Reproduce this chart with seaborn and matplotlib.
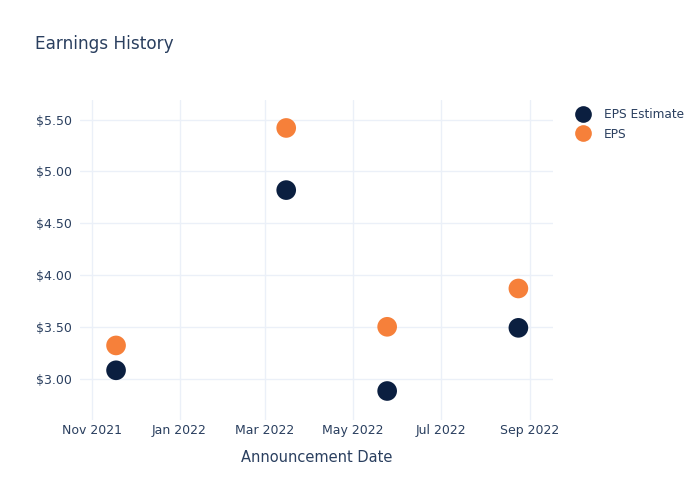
import matplotlib
matplotlib.use("Agg")
import matplotlib.pyplot as plt
import matplotlib.dates as mdates
from matplotlib.ticker import FuncFormatter
import seaborn as sns
import pandas as pd
import numpy as np

dates = ["2021-11-18", "2022-03-16", "2022-05-25", "2022-08-24"]
eps_estimate = [3.08, 4.82, 2.88, 3.49]
eps_actual = [3.32, 5.42, 3.50, 3.87]
series_names = ["EPS Estimate", "EPS"]
colors = ["#0b1f40", "#f6803a"]

df = pd.DataFrame({
    "date": pd.to_datetime(dates * 2),
    "value": eps_estimate + eps_actual,
    "series": [series_names[0]] * len(dates) + [series_names[1]] * len(dates),
})

sns.set_style("white")
plt.rcParams["font.family"] = ["DejaVu Sans"]
text_color = "#2a3f5f"
grid_color = "#ebf0f8"

fig = plt.figure(figsize=(7, 5), dpi=100)
ax = fig.add_axes([80/700, 80/500, (553-80)/700, 320/500])

sns.scatterplot(data=df, x="date", y="value", hue="series", hue_order=series_names,
                palette=colors, s=200, edgecolor="none", ax=ax, legend=True, zorder=3)

ax.set_xlim(pd.Timestamp("2021-10-24"), pd.Timestamp("2022-09-17"))
ax.set_ylim(2.60, 5.69)
ax.set_yticks([3.0, 3.5, 4.0, 4.5, 5.0, 5.5])
ax.yaxis.set_major_formatter(FuncFormatter(lambda v, p: f"${v:.2f}"))
ticks = pd.to_datetime(["2021-11-01", "2022-01-01", "2022-03-01", "2022-05-01", "2022-07-01", "2022-09-01"])
ax.set_xticks(ticks)
ax.xaxis.set_major_formatter(mdates.DateFormatter("%b %Y"))

ax.grid(True, color=grid_color, linewidth=1)
ax.set_axisbelow(True)
for sp in ax.spines.values():
    sp.set_visible(False)
ax.tick_params(axis="both", length=0, labelsize=9, colors=text_color)
ax.tick_params(axis="x", pad=3)
ax.tick_params(axis="y", pad=6)
ax.set_xlabel("Announcement Date", fontsize=10.5, color=text_color, labelpad=9)
ax.set_ylabel("")

handles, labels = ax.get_legend_handles_labels()
ax.get_legend().remove()
leg = fig.legend(handles, labels, loc="upper left", bbox_to_anchor=(577/700, 1 - 108/500),
                 frameon=False, fontsize=8.7, markerscale=0.85, handlelength=1.0,
                 handletextpad=1.2, labelspacing=0.55, borderaxespad=0, borderpad=0)
for t in leg.get_texts():
    t.set_color(text_color)

fig.text(35/700, 1 - 44/500, "Earnings History", fontsize=12.2, color=text_color, va="center", ha="left")

fig.savefig("out.png", dpi=100, facecolor="white")
